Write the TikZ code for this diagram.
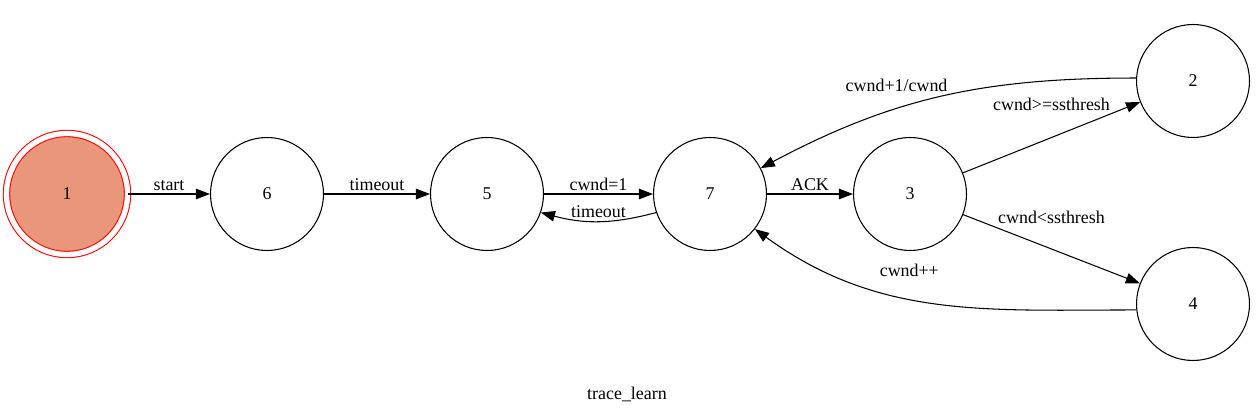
\documentclass[tikz,border=0pt]{standalone}
\usepackage{fontspec}
\setmainfont{Liberation Serif}
\usepackage{xcolor}
\usetikzlibrary{arrows.meta}
\definecolor{salmonfill}{HTML}{E9967A}

\begin{document}
\begin{tikzpicture}[x=0.02cm,y=-0.02cm,line width=0.6pt,
  every node/.style={font=\fontsize{10.2}{12.2}\selectfont},
  state/.style={circle,draw,minimum size=2.26cm,inner sep=0pt},
  startstate/.style={state,draw=red,fill=salmonfill,double=white,double distance=3pt,minimum size=2.42cm},
  >={Triangle[length=8pt,width=6pt]}]
\useasboundingbox (0,0) rectangle (1257,415);

\node[startstate] (n1) at (67,194) {1};
\node[state] (n6) at (267,194) {6};
\node[state] (n5) at (487,194) {5};
\node[state] (n7) at (710,194) {7};
\node[state] (n3) at (910,194) {3};
\node[state] (n2) at (1193,81) {2};
\node[state] (n4) at (1193,304) {4};

\draw[->] (n1) -- node[above,inner sep=1.5pt] {start} (n6);
\draw[->] (n6) -- node[above,inner sep=1.5pt] {timeout} (n5);
\draw[->] (n5) -- node[above,inner sep=1.5pt] {cwnd=1} (n7);
\draw[->] (n7.199) to[bend left=15] node[above,inner sep=2pt] {timeout} (n5.341);
\draw[->] (n7) -- node[above,inner sep=1.5pt] {ACK} (n3);
\draw[->] (n3) -- node[pos=0.5,yshift=0.66cm] {cwnd>=ssthresh} (n2);
\draw[->] (n3) -- node[pos=0.5,yshift=0.64cm] {cwnd<ssthresh} (n4);
\draw[->] (n2.177) to[out=180,in=28] node[pos=0.63,above=6.5pt] {cwnd+1/cwnd} (n7.27);
\draw[->] (n4.186) to[out=180,in=-36] node[pos=0.57,yshift=0.56cm] {cwnd++} (n7.322);

\node (title) at (627,394) {trace\_learn};
\end{tikzpicture}
\end{document}
